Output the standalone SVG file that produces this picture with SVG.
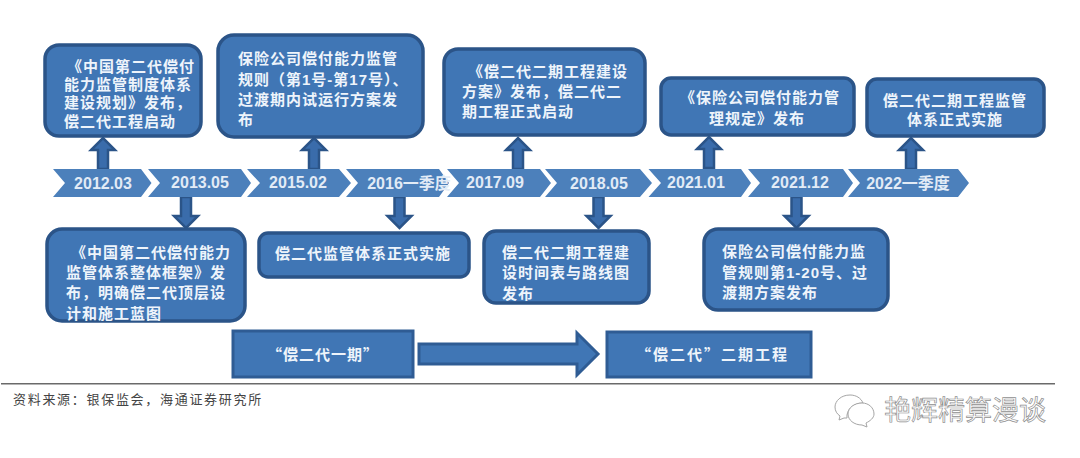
<svg xmlns="http://www.w3.org/2000/svg" width="1080" height="458" viewBox="0 0 1080 458">
<style>
text{font-family:"Liberation Sans","Noto Sans CJK SC",sans-serif}
.q{font-family:"Noto Sans CJK SC",sans-serif}
.box{fill:#4076b5;stroke:#2b5488;stroke-width:3.5}
.rect{fill:#4076b5;stroke:#2f5c94;stroke-width:3}
.chev{fill:#4c80bb}
.t{font-size:15px;font-weight:700;fill:#eef4fb;letter-spacing:1px}
.c{text-anchor:middle}
.d{font-size:16px;font-weight:700;fill:#e2ebf6;text-anchor:middle}
.arr{fill:#3a6cab;stroke:#2b5488;stroke-width:2.5}
.src{font-size:13px;fill:#444;letter-spacing:1.7px}
.wm{font-size:27px;fill:#fff;stroke:#8f8f8f;stroke-width:.7;letter-spacing:0}
.ic{fill:#fff;stroke:#a5a5a5;stroke-width:1}
</style>
<defs>
<path id="up" d="M-5 32V13H-12L0 1L12 13H5V32Z"/>
<path id="down" d="M-5 0V19H-12L0 31L12 19H5V0Z"/>
</defs>
<rect width="1080" height="458" fill="#fff"/>
<g id="connectors">
<use href="#up" class="arr" x="103" y="137"/>
<use href="#up" class="arr" x="314" y="137"/>
<use href="#up" class="arr" x="518" y="137"/>
<use href="#up" class="arr" x="709" y="136"/>
<use href="#up" class="arr" x="911" y="137"/>
<use href="#down" class="arr" x="186" y="197"/>
<use href="#down" class="arr" x="399.500" y="197"/>
<use href="#down" class="arr" x="598.500" y="197"/>
<use href="#down" class="arr" x="796.500" y="197"/>
<path id="phase-arrow" d="M419 344H577V333L598 354L577 375V364H419Z" fill="#4076b5" stroke="#2f5c94" stroke-width="3"/>
</g>
<g id="d1"><polygon class="chev" points="53,169 141,169 151.500,183 141,197 53,197 65,183"/><text class="d" x="103" y="189">2012.03</text></g>
<g id="d2"><polygon class="chev" points="148,169 241,169 251,183 241,197 148,197 160,183"/><text class="d" x="200" y="188">2013.05</text></g>
<g id="d3"><polygon class="chev" points="247,169 339,169 351,183 339,197 247,197 260,183"/><text class="d" x="298" y="188">2015.02</text></g>
<g id="d4"><polygon class="chev" points="346,169 439,169 449,183 439,197 346,197 358,183"/><text class="d" x="409" y="189">2016一季度</text></g>
<g id="d5"><polygon class="chev" points="447,169 540,169 551,183 540,197 447,197 459,183"/><text class="d" x="495" y="188">2017.09</text></g>
<g id="d6"><polygon class="chev" points="545,169 640,169 652,183 640,197 545,197 557,183"/><text class="d" x="599" y="189">2018.05</text></g>
<g id="d7"><polygon class="chev" points="648.500,169 741,169 751,183 741,197 648.500,197 661,183"/><text class="d" x="696" y="188">2021.01</text></g>
<g id="d8"><polygon class="chev" points="748,169 843,169 853,183 843,197 748,197 760,183"/><text class="d" x="800" y="188">2021.12</text></g>
<g id="d9"><polygon class="chev" points="848,169 958,169 969,183 958,197 848,197 860,183"/><text class="d" x="908" y="189">2022一季度</text></g>
<g id="b1"><rect class="box" x="45" y="45" width="156" height="91" rx="14"/>
<text class="t" x="67" y="72">《中国第二代偿付</text><text class="t" x="64" y="90">能力监管制度体系</text><text class="t" x="64" y="108">建设规划》发布&#xFF0C;</text><text class="t" x="64" y="127">偿二代工程启动</text></g>
<g id="b2"><rect class="box" x="218" y="35" width="205" height="102" rx="16"/>
<text class="t" x="238" y="64">保险公司偿付能力监管</text><text class="t" x="238" y="85">规则&#xFF08;第1号-第17号&#xFF09;、</text><text class="t" x="238" y="105">过渡期内试运行方案发</text><text class="t" x="238" y="125">布</text></g>
<g id="b3"><rect class="box" x="444" y="49" width="201" height="86" rx="14"/>
<text class="t" x="468" y="77">《偿二代二期工程建设</text><text class="t" x="462" y="97">方案》发布&#xFF0C;偿二代二</text><text class="t" x="462" y="117">期工程正式启动</text></g>
<g id="b4"><rect class="box" x="661" y="78" width="193" height="57" rx="10"/>
<text class="t c" x="760" y="103">《保险公司偿付能力管</text><text class="t c" x="757" y="124">理规定》发布</text></g>
<g id="b5"><rect class="box" x="867" y="79" width="177" height="57" rx="10"/>
<text class="t c" x="955" y="106">偿二代二期工程监管</text><text class="t c" x="955" y="125">体系正式实施</text></g>
<g id="l1"><rect class="box" x="47" y="229" width="198" height="92" rx="15"/>
<text class="t" x="71" y="258">《中国第二代偿付能力</text><text class="t" x="66" y="278">监管体系整体框架》发</text><text class="t" x="66" y="298">布&#xFF0C;明确偿二代顶层设</text><text class="t" x="66" y="319">计和施工蓝图</text></g>
<g id="l2"><rect class="box" x="259" y="233" width="210" height="44" rx="9"/>
<text class="t" x="275" y="259">偿二代监管体系正式实施</text></g>
<g id="l3"><rect class="box" x="484" y="231" width="165" height="72" rx="12"/>
<text class="t" x="502" y="258">偿二代二期工程建</text><text class="t" x="502" y="278">设时间表与路线图</text><text class="t" x="502" y="299">发布</text></g>
<g id="l4"><rect class="box" x="704" y="229" width="184" height="81" rx="14"/>
<text class="t" x="722" y="257">保险公司偿付能力监</text><text class="t" x="722" y="278">管规则第1-20号、过</text><text class="t" x="722" y="298">渡期方案发布</text></g>
<g id="p1"><rect class="rect" x="233" y="331" width="180" height="46"/>
<text class="t c q" x="323" y="360">“偿二代一期”</text></g>
<g id="p2"><rect class="rect" x="607" y="332" width="204" height="45"/>
<text class="t q" x="636" y="360" style="letter-spacing:2px">“偿二代”二期工程</text></g>
<rect x="1" y="383" width="1054" height="1.500" fill="#6a6a6a"/>
<text class="src" x="13" y="404">资料来源&#xFF1A;银保监会&#xFF0C;海通证券研究所</text>
<g id="wechat">
<path class="ic" d="M850 395c-9 0-15 6-15 12 0 4 2 7 5 9l-1 4 5-2h3c-1-8 6-15 16-15-2-5-7-8-13-8Z"/>
<path class="ic" d="M862 403c-8 0-14 5-14 11s6 11 14 11l5 2-1-4c4-2 8-5 8-9 0-6-5-11-12-11Z"/>
</g>
<text class="wm" x="884" y="420">艳辉精算漫谈</text>
</svg>
